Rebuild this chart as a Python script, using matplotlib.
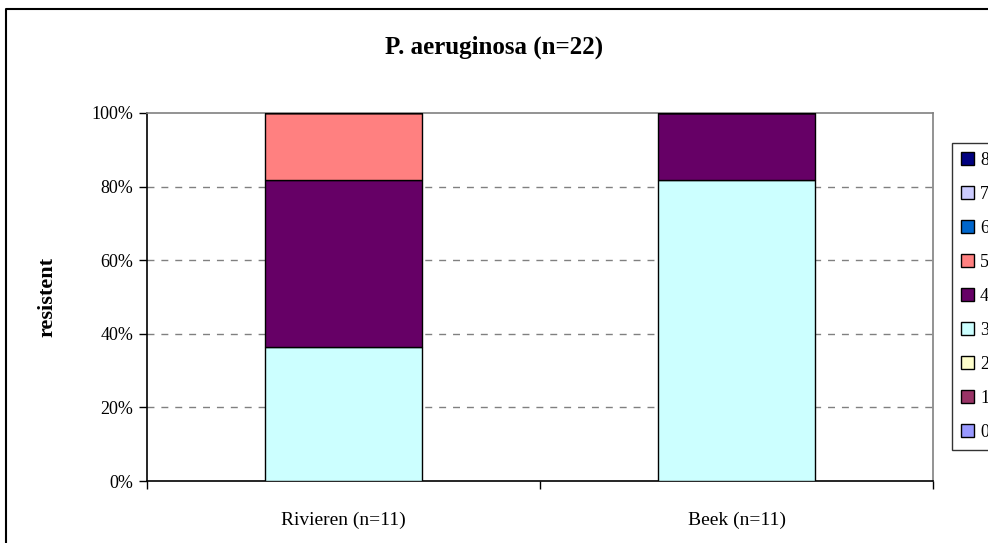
import numpy as np
import matplotlib.pyplot as plt
from matplotlib.patches import Patch
from matplotlib.lines import Line2D

plt.rcParams['font.family'] = ['Liberation Serif', 'DejaVu Serif']

sites = ['Rivieren (n=11)', 'Beek (n=11)']
classes = ['0', '1', '2', '3', '4', '5', '6', '7', '8']
# number of isolates per resistance class, per site
counts = {
    'Rivieren (n=11)': [0, 0, 0, 4, 5, 2, 0, 0, 0],
    'Beek (n=11)':     [0, 0, 0, 9, 2, 0, 0, 0, 0],
}
colors = ['#9999FF', '#993366', '#FFFFCC', '#CCFFFF', '#660066',
          '#FF8080', '#0066CC', '#CCCCFF', '#000080']
yticks = [0, 20, 40, 60, 80, 100]

fig = plt.figure(figsize=(9.88, 5.43), dpi=100)
ax = fig.add_axes([147/988, 1-481/543, (933-147)/988, (481-113)/543])

x = np.arange(len(sites))
bottom = np.zeros(len(sites))
totals = np.array([sum(counts[s]) for s in sites], dtype=float)
for i, cls in enumerate(classes):
    vals = np.array([counts[s][i] for s in sites], dtype=float)
    pct = vals / totals * 100
    ax.bar(x, pct, width=0.4, bottom=bottom, color=colors[i],
           edgecolor='black', linewidth=1.0, zorder=3)
    bottom += pct

ax.set_xlim(-0.5, 1.5)
ax.set_ylim(0, 100)
ax.set_yticks(yticks)
ax.set_yticklabels([f'{v}%' for v in yticks])
ax.set_xticks([-0.5, 0.5, 1.5])
ax.set_xticklabels([])
ax.set_xticks(x, minor=True)
ax.set_xticklabels(sites, minor=True)
ax.tick_params(axis='x', which='major', direction='out', length=6, width=1)
ax.tick_params(axis='x', which='minor', length=0, pad=22, labelsize=14)
ax.tick_params(axis='y', direction='out', length=6, width=1, labelsize=13, pad=4)

for v in yticks[1:-1]:
    ax.axhline(v, color='#808080', linestyle=(0, (5, 5)), linewidth=1, zorder=1)

ax.spines['left'].set_color('black')
ax.spines['bottom'].set_color('black')
ax.spines['top'].set_color('#808080')
ax.spines['right'].set_color('#808080')
for sp in ax.spines.values():
    sp.set_linewidth(1.2)

ax.set_ylabel('resistent', fontsize=16, fontweight='bold', labelpad=24)
fig.text(0.5, 1-47/543, 'P. aeruginosa (n=22)', ha='center', va='center',
         fontsize=18, fontweight='bold')

# outer chart frame
fig.add_artist(Line2D([6/988, 6/988, 1.0], [0.0, 1-9/543, 1-9/543],
                      transform=fig.transFigure, color='black', linewidth=1.5))

handles = [Patch(facecolor=colors[i], edgecolor='black', linewidth=1.0)
           for i in range(len(classes))][::-1]
leg = fig.legend(handles, classes[::-1], loc='upper left',
                 bbox_to_anchor=(952/988, 1-143/543), fontsize=13,
                 frameon=True, fancybox=False, edgecolor='black',
                 handlelength=0.7, handleheight=0.7, handletextpad=0.35,
                 labelspacing=0.94, borderpad=0.5, borderaxespad=0)
leg.get_frame().set_linewidth(1.0)

fig.savefig('out.png', dpi=100)
